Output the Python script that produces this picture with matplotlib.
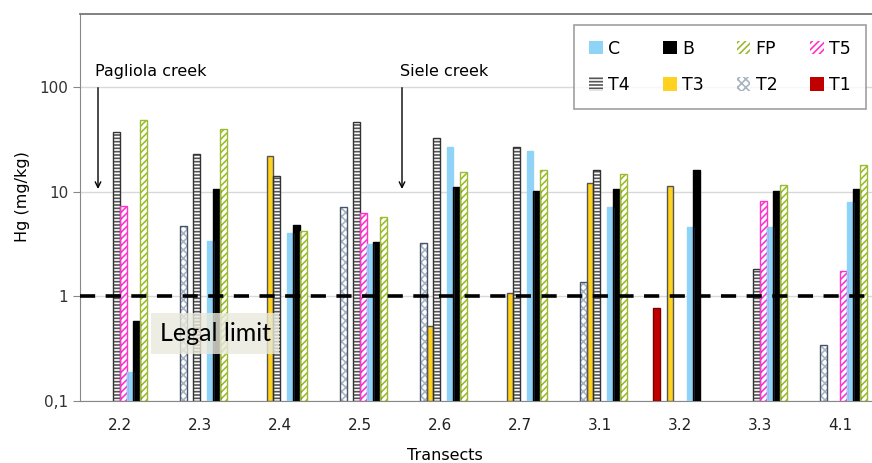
import matplotlib
matplotlib.use('Agg')
import matplotlib.pyplot as plt
import numpy as np

nan = np.nan

transects = ['2.2', '2.3', '2.4', '2.5', '2.6', '2.7', '3.1', '3.2', '3.3', '4.1']

# Hg (mg/kg) per sampling point (nan = no bar)
T1 = [nan, nan, nan, nan, nan, nan, nan, 0.77, nan, nan]
T2 = [nan, 4.7, nan, 7.1, 3.25, nan, 1.37, nan, nan, 0.34]
T3 = [nan, nan, 21.9, nan, 0.52, 1.08, 12.1, 11.3, nan, nan]
T4 = [37.3, 22.9, 14.1, 46.5, 33.0, 26.8, 16.3, nan, 1.84, nan]
T5 = [7.3, nan, nan, 6.2, nan, nan, nan, nan, 8.2, 1.75]
C = [0.19, 3.4, 4.0, 3.2, 26.8, 24.4, 7.2, 4.6, 4.6, 8.0]
B = [0.58, 10.6, 4.85, 3.3, 11.1, 10.2, 10.6, 16.3, 10.2, 10.6]
FP = [49.0, 39.4, 4.2, 5.8, 15.3, 16.3, 14.9, nan, 11.5, 17.9]

legal_limit = 1

plt.rcParams['font.family'] = ['DejaVu Sans']
plt.rcParams['hatch.linewidth'] = 1.2

fig = plt.figure(figsize=(8.72, 4.63), dpi=100)
ax = fig.add_axes([80 / 872, 62 / 463, 1 - 80 / 872, 387 / 463])

x = np.arange(len(transects))
w = 0.084
# name, values, face, hatch colour, hatch, outline
series = [
    ('T1', T1, '#c00000', '#c00000', None, '#7a0000'),
    ('T2', T2, 'white', '#a9b4c2', 'xxxx', '#44546a'),
    ('T3', T3, '#ffd21f', '#ffd21f', None, '#555555'),
    ('T4', T4, 'white', '#555555', '-----', '#333333'),
    ('T5', T5, 'white', '#ff33cc', '/////', '#ff33cc'),
    ('C', C, '#8fd3f7', '#8fd3f7', None, '#8fd3f7'),
    ('B', B, 'black', 'black', None, 'black'),
    ('FP', FP, 'white', '#9bbb30', '/////', '#9bbb30'),
]

handles = {}
for i, (name, vals, face, hcol, hatch, edge) in enumerate(series):
    pos = x + (i - 3.5) * w
    v = np.array(vals, dtype=float)
    heights = v - 0.1
    h = ax.bar(pos, heights, w, bottom=0.1, color=face, edgecolor=hcol,
               hatch=hatch, linewidth=0, zorder=3, label=name)
    ax.bar(pos, heights, w, bottom=0.1, fill=False, edgecolor=edge,
           linewidth=1.0, zorder=4)
    handles[name] = h

ax.set_yscale('log')
ax.set_ylim(0.1, 500)
ax.set_xlim(-0.5, 9.4)
ax.set_yticks([0.1, 1, 10, 100])
ax.set_yticklabels(['0,1', '1', '10', '100'])
ax.yaxis.set_minor_locator(matplotlib.ticker.NullLocator())
ax.set_xticks(x)
ax.set_xticklabels(transects)
ax.tick_params(axis='x', length=0, labelsize=11, pad=12)
ax.tick_params(axis='y', length=5, color='#888888', labelsize=11, labelcolor='#333333')
ax.tick_params(axis='x', labelcolor='#222222')
ax.grid(axis='y', color='#d9d9d9', lw=1, zorder=0)
ax.set_axisbelow(True)
for s in ['left', 'bottom']:
    ax.spines[s].set_color('#888888')
ax.spines['top'].set_color('#777777')
ax.spines['top'].set_linewidth(1.3)
ax.spines['right'].set_visible(False)

ax.axhline(legal_limit, color='black', lw=2.6, dashes=(4.2, 2.9), zorder=5)
ax.text(1.19, 0.44, 'Legal limit', family=['Lato', 'DejaVu Sans'], fontsize=18,
        ha='center', va='center', zorder=6,
        bbox=dict(boxstyle='square,pad=0.35', facecolor='#e9e9dc', edgecolor='none', alpha=0.8))

# creek labels and arrows
ax.text(-0.31, 142, 'Pagliola creek', fontsize=11.5, ha='left', va='center')
ax.annotate('', xy=(-0.275, 10), xytext=(-0.275, 105),
            arrowprops=dict(arrowstyle='->', color='black', lw=1))
ax.text(3.5, 142, 'Siele creek', fontsize=11.5, ha='left', va='center')
ax.annotate('', xy=(3.525, 10), xytext=(3.525, 105),
            arrowprops=dict(arrowstyle='->', color='black', lw=1))

fig.text(445 / 872, 1 - 455 / 463, 'Transects', fontsize=11.5, ha='center', va='center')
fig.text(22 / 872, 1 - 197 / 463, 'Hg (mg/kg)', fontsize=11.5, ha='center', va='center',
         rotation=90)

order = ['C', 'T4', 'B', 'T3', 'FP', 'T2', 'T5', 'T1']
leg = fig.legend([handles[n] for n in order], order, ncol=4, loc='upper right',
                 bbox_to_anchor=(866 / 872, 1 - 25 / 463), borderaxespad=0, fontsize=12.5,
                 frameon=True, fancybox=False, handlelength=0.8, handleheight=0.8,
                 handletextpad=0.3, columnspacing=1.9, borderpad=0.85, labelspacing=1.05)
leg.get_frame().set_edgecolor('#888888')
leg.get_frame().set_linewidth(1.2)

fig.savefig('out.png', dpi=100)
